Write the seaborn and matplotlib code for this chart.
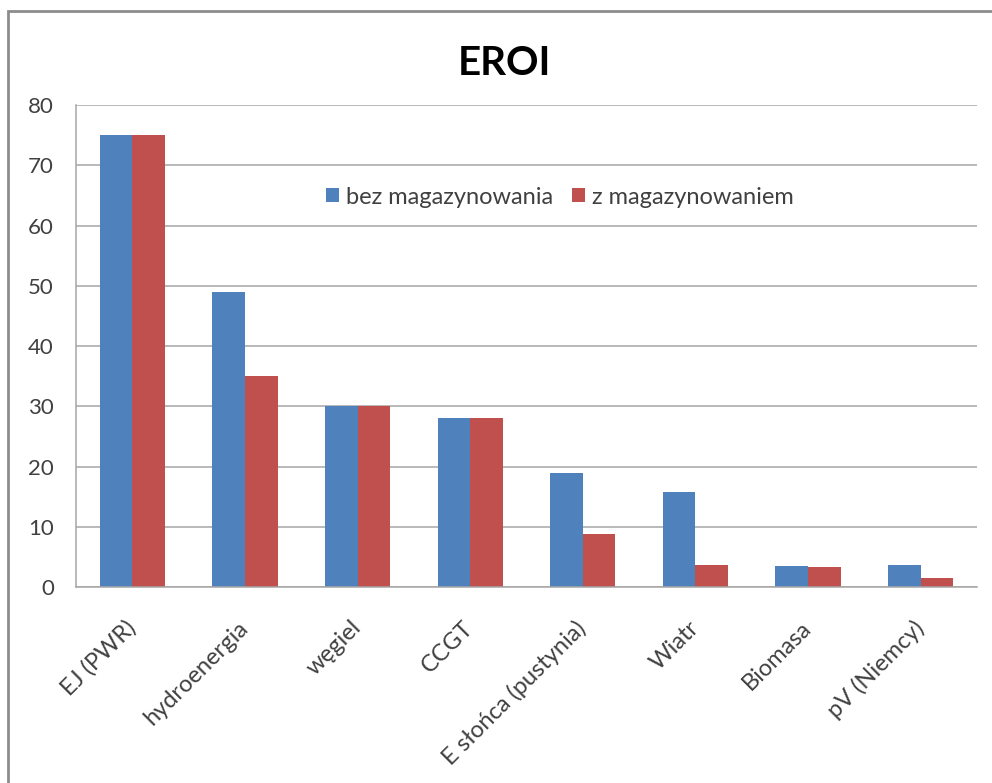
import matplotlib
matplotlib.use('Agg')
import matplotlib.pyplot as plt
import seaborn as sns
import pandas as pd
from matplotlib.patches import Rectangle

# dane
categories = ['EJ (PWR)', 'hydroenergia', 'węgiel', 'CCGT', 'E słońca (pustynia)',
              'Wiatr', 'Biomasa', 'pV (Niemcy)']
bez_mag = [75, 49, 30, 28, 19, 15.8, 3.5, 3.6]
z_mag = [75, 35, 30, 28, 8.8, 3.6, 3.4, 1.5]
series = ['bez magazynowania', 'z magazynowaniem']

df = pd.DataFrame({
    'kategoria': categories * 2,
    'EROI': bez_mag + z_mag,
    'seria': [series[0]] * len(categories) + [series[1]] * len(categories),
})

sns.set_style('white')
plt.rcParams['font.family'] = ['Lato', 'DejaVu Sans']

fig = plt.figure(figsize=(9.92, 7.83), dpi=100)
ax = fig.add_axes([0.0766, 0.2503, 0.9083, 0.6156])

sns.barplot(data=df, x='kategoria', y='EROI', hue='seria', order=categories,
            hue_order=series, palette=['#4F81BD', '#C0504D'], width=0.58,
            saturation=1, ax=ax, edgecolor='none', errorbar=None)

ax.set_ylim(0, 80)
ax.set_xlim(-0.5, len(categories) - 0.5)
ax.set_yticks(range(0, 81, 10))
ax.yaxis.grid(True, color='#a6a6a6', linewidth=1.1)
ax.set_axisbelow(True)
ax.set_xlabel('')
ax.set_ylabel('')

for s in ['top', 'right']:
    ax.spines[s].set_visible(False)
for s in ['left', 'bottom']:
    ax.spines[s].set_color('#a6a6a6')
    ax.spines[s].set_linewidth(1.1)

ax.tick_params(axis='y', labelsize=16, colors='#404040', length=6, color='#a6a6a6',
               width=1.1, pad=10)
ax.set_xticks(range(len(categories)))
ax.set_xticklabels(categories, rotation=45, ha='right', va='center',
                   rotation_mode='anchor', fontsize=17, color='#404040')
ax.tick_params(axis='x', length=0, pad=27)
# znaczniki pomiędzy kategoriami
ax.set_xticks([i + 0.5 for i in range(-1, len(categories))], minor=True)
ax.tick_params(axis='x', which='minor', length=6, color='#a6a6a6', width=1.1)

ax.legend(loc='center', bbox_to_anchor=(0.537, 0.809), ncol=2, frameon=False,
          fontsize=17, handlelength=0.55, handleheight=0.55, handletextpad=0.3,
          columnspacing=0.8, labelcolor='#404040')

fig.text(0.509, 0.919, 'EROI', ha='center', va='center', fontsize=29,
         fontweight='bold', color='black')

# ramka wykresu
fig.patches.append(Rectangle((8 / 992, -0.1), 1.2, 1 - 11 / 783 + 0.1,
                             transform=fig.transFigure, fill=False,
                             edgecolor='#8c8c8c', linewidth=2, zorder=0))

fig.savefig('out.png', dpi=100)
